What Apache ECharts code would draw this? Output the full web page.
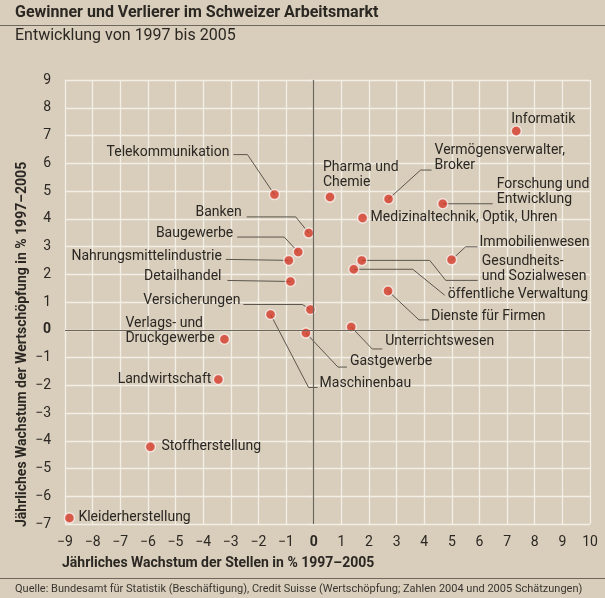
<!DOCTYPE html>
<html>
<head>
<meta charset="utf-8">
<script src="https://cdn.jsdelivr.net/npm/echarts@6/dist/echarts.min.js"></script>
<style>
  html, body { margin: 0; padding: 0; background: #d8cebb; }
  #chart { width: 605px; height: 598px; }
</style>
</head>
<body>
<div id="chart"></div>
<script>
// Branchen, Wachstum der Stellen (x) und der Wertschöpfung (y), % pro Jahr 1997-2005
const names = [
  'Informatik', 'Telekommunikation', 'Pharma und\nChemie', 'Vermögensverwalter,\nBroker',
  'Forschung und\nEntwicklung', 'Medizinaltechnik, Optik, Uhren', 'Banken', 'Baugewerbe',
  'Nahrungsmittelindustrie', 'Immobilienwesen', 'Gesundheits-\nund Sozialwesen', 'öffentliche Verwaltung',
  'Detailhandel', 'Dienste für Firmen', 'Versicherungen', 'Maschinenbau',
  'Unterrichtswesen', 'Gastgewerbe', 'Verlags- und\nDruckgewerbe', 'Landwirtschaft',
  'Stoffherstellung', 'Kleiderherstellung'
]
const jobGrowth = [7.33, -1.42, 0.59, 2.71, 4.67, 1.77, -0.18, -0.56, -0.9, 4.99, 1.74, 1.45,
  -0.84, 2.69, -0.12, -1.56, 1.36, -0.28, -3.23, -3.45, -5.91, -8.84]
const valueGrowth = [7.16, 4.87, 4.78, 4.71, 4.54, 4.03, 3.49, 2.8, 2.5, 2.52, 2.5, 2.18,
  1.74, 1.4, 0.73, 0.55, 0.1, -0.12, -0.34, -1.79, -4.22, -6.78]
const xTicks = { min: -9, max: 10, step: 1 }
const yTicks = { min: -7, max: 9, step: 1 }

// label placement in px relative to the dot: [dx, dy, align, leader polyline]
const labelPlacement = [
  [-5, -12, 'left', null],
  [-45, -42, 'right', [[-41, -40], [-27, -40], [0, 0]]],
  [-7, -22, 'left', null],
  [46, -41, 'left', [[43, -29], [32, -29], [0, 0]]],
  [54, -12, 'left', [[50, 0], [0, 0]]],
  [8, 0, 'left', null],
  [-67, -20, 'right', [[-62, -16], [-13, -16], [0, 0]]],
  [-65, -19, 'right', [[-61, -15], [-14, -15], [0, 0]]],
  [-67, -4, 'right', [[-63, -1], [0, 0]]],
  [28, -17, 'left', [[26, -13], [14, -13], [0, 0]]],
  [120, 9, 'left', [[116, 20], [84, 20], [68, 0], [0, 0]]],
  [94, 25, 'left', [[91, 26], [59, 0], [0, 0]]],
  [-69, -5, 'right', [[-63, -1], [0, 0]]],
  [43, 26, 'left', [[41, 29], [31, 29], [0, 0]]],
  [-70, -9, 'right', [[-67, -5], [-8, -5], [0, 0]]],
  [49, 69, 'left', [[47, 73], [38, 73], [0, 0]]],
  [34, 15, 'left', [[31, 22], [21, 22], [0, 0]]],
  [44, 28, 'left', [[41, 34], [32, 34], [0, 0]]],
  [-99, -8, 'left', null],
  [-7, 0, 'right', null],
  [11, 0, 'left', null],
  [9, 0, 'left', null]
]

const ink = '#2b2723'
const gridWhite = '#f3efe7'
const leaderColor = '#5c564e'
const font = 'Roboto, sans-serif'

const points = jobGrowth.map((x, i) => [x, valueGrowth[i], i])

const chart = echarts.init(document.getElementById('chart'))

const tickLabel = v => v === 0 ? '{z|0}' : String(v).replace('-', '\u2212')
const axisCommon = {
  type: 'value',
  axisLine: { show: false },
  splitLine: { show: true, lineStyle: { color: gridWhite, width: 1.3 } },
  axisLabel: {
    color: ink, fontSize: 14, fontFamily: font, formatter: tickLabel,
    rich: { z: { fontWeight: 'bold', fontSize: 14, color: ink, fontFamily: font } }
  }
}

chart.setOption({
  animation: false,
  backgroundColor: '#d8cebb',
  grid: { left: 65, right: 15, top: 80, bottom: 74 },
  xAxis: {
    ...axisCommon,
    min: xTicks.min, max: xTicks.max, interval: xTicks.step,
    axisTick: { show: true, length: 8, lineStyle: { color: gridWhite, width: 1.3 } },
    axisLabel: { ...axisCommon.axisLabel, margin: 11 }
  },
  yAxis: {
    ...axisCommon,
    min: yTicks.min, max: yTicks.max, interval: yTicks.step,
    axisTick: { show: true, length: 5, lineStyle: { color: gridWhite, width: 1.3 } },
    axisLabel: { ...axisCommon.axisLabel, margin: 14 }
  },
  graphic: [
    { type: 'text', left: 15, top: 5, style: { text: 'Gewinner und Verlierer im Schweizer Arbeitsmarkt', font: 'bold 16px ' + font, fill: ink } },
    { type: 'line', shape: { x1: 0, y1: 25.5, x2: 605, y2: 25.5 }, style: { stroke: '#6e675d', lineWidth: 1.2 } },
    { type: 'text', left: 15, top: 28, style: { text: 'Entwicklung von 1997 bis 2005', font: '16px ' + font, fill: ink } },
    { type: 'text', x: 62, y: 563, style: { text: 'Jährliches Wachstum der Stellen in % 1997–2005', font: 'bold 14px ' + font, fill: ink, align: 'left', verticalAlign: 'middle' } },
    { type: 'text', x: 22, y: 527, rotation: Math.PI / 2, style: { text: 'Jährliches Wachstum der Wertschöpfung in % 1997–2005', font: 'bold 14px ' + font, fill: ink, align: 'left', verticalAlign: 'middle' } },
    { type: 'line', shape: { x1: 0, y1: 578.5, x2: 605, y2: 578.5 }, style: { stroke: '#6e675d', lineWidth: 1.2 } },
    { type: 'text', x: 15, y: 589, style: { text: 'Quelle: Bundesamt für Statistik (Beschäftigung), Credit Suisse (Wertschöpfung; Zahlen 2004 und 2005 Schätzungen)', font: '11px ' + font, fill: '#3a3530', align: 'left', verticalAlign: 'middle' } }
  ],
  series: [
    {
      // zero lines
      type: 'line', data: [], z: 1, silent: true,
      markLine: {
        symbol: 'none', silent: true, label: { show: false },
        lineStyle: { color: '#6b655c', width: 1.2, type: 'solid' },
        data: [{ xAxis: 0 }, { yAxis: 0 }]
      }
    },
    {
      // labels with leader lines
      type: 'custom', z: 2, silent: true, clip: false,
      data: points,
      encode: { x: 0, y: 1 },
      renderItem(params, api) {
        const i = params.dataIndex
        const p = api.coord([api.value(0), api.value(1)])
        const [dx, dy, align, path] = labelPlacement[i]
        const children = []
        if (path) {
          children.push({
            type: 'polyline',
            shape: { points: path.map(q => [p[0] + q[0], p[1] + q[1]]) },
            style: { stroke: leaderColor, lineWidth: 1, fill: null }
          })
        }
        children.push({
          type: 'text', x: p[0] + dx, y: p[1] + dy,
          style: { text: names[i], font: '14px ' + font, fill: ink, align, verticalAlign: 'middle', lineHeight: 15 }
        })
        return { type: 'group', children }
      }
    },
    {
      type: 'scatter', z: 3, silent: true,
      data: points,
      symbolSize: 10,
      itemStyle: { color: '#d63b2b', borderColor: 'rgba(255,255,255,0.85)', borderWidth: 1.5 }
    }
  ]
})
</script>
</body>
</html>
